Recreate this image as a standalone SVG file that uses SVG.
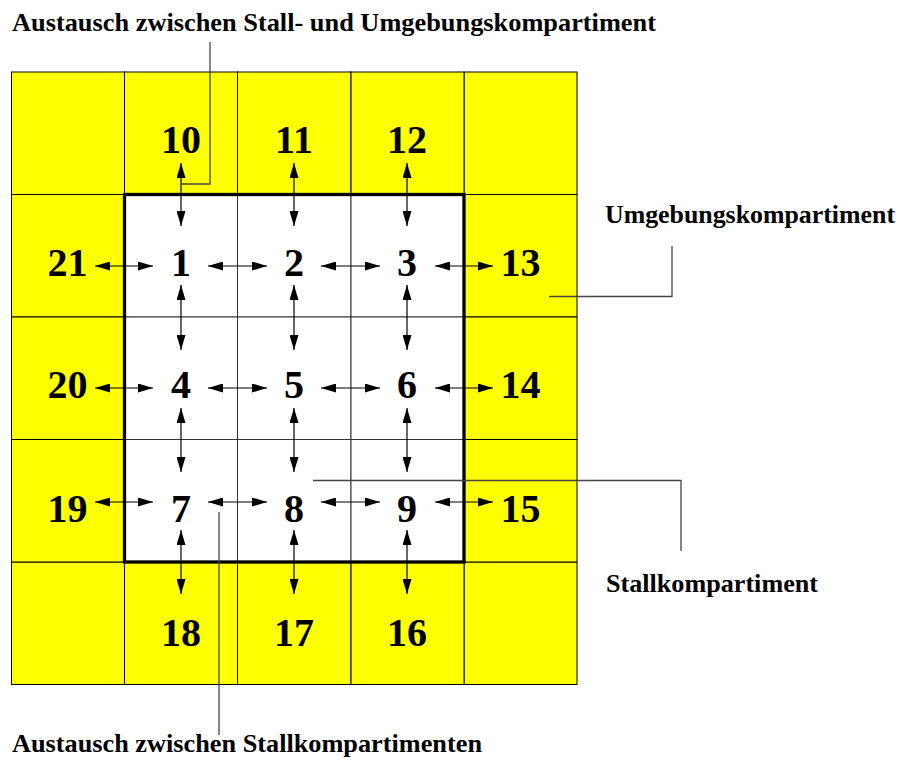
<svg xmlns="http://www.w3.org/2000/svg" width="904" height="763" viewBox="0 0 904 763">
  <style>
    .env { fill: #ffff00; stroke: #000; stroke-width: 1; }
    .stall { fill: #ffffff; stroke: #333; stroke-width: 1; }
    .num { font-family: "Liberation Serif", "Times New Roman", serif; font-weight: bold; font-size: 40px; fill: #000; text-anchor: middle; }
    .lbl { font-family: "Liberation Serif", "Times New Roman", serif; font-weight: bold; font-size: 26px; fill: #000; }
    .flow { stroke: #000; stroke-width: 1.2; fill: none; marker-start: url(#head); marker-end: url(#head); }
    .lead { stroke: #444; stroke-width: 1.3; fill: none; }
  </style>
  <defs>
    <marker id="head" markerUnits="userSpaceOnUse" markerWidth="15" markerHeight="9" refX="15" refY="4.5" orient="auto-start-reverse">
      <path d="M0,0 L15,4.5 L0,9 Z" fill="#000"/>
    </marker>
  </defs>

  <!-- surrounding compartments (yellow ring) -->
  <g id="corner-tl"><rect class="env" x="11.5" y="72" width="113" height="122.5"/></g>
  <g id="corner-tr"><rect class="env" x="464" y="72" width="113" height="122.5"/></g>
  <g id="corner-bl"><rect class="env" x="11.5" y="562" width="113" height="122.5"/></g>
  <g id="corner-br"><rect class="env" x="464" y="562" width="113" height="122.5"/></g>

  <g id="node-10"><rect class="env" x="124.5" y="72" width="113" height="122.5"/><text class="num" x="181" y="153">10</text></g>
  <g id="node-11"><rect class="env" x="237.5" y="72" width="113.5" height="122.5"/><text class="num" x="294" y="153">11</text></g>
  <g id="node-12"><rect class="env" x="351" y="72" width="113" height="122.5"/><text class="num" x="407" y="153">12</text></g>

  <g id="node-21"><rect class="env" x="11.5" y="194.5" width="113" height="122.5"/><text class="num" x="67.5" y="276">21</text></g>
  <g id="node-20"><rect class="env" x="11.5" y="317" width="113" height="122.5"/><text class="num" x="67.5" y="398">20</text></g>
  <g id="node-19"><rect class="env" x="11.5" y="439.5" width="113" height="122.5"/><text class="num" x="67.5" y="522">19</text></g>

  <g id="node-13"><rect class="env" x="464" y="194.5" width="113" height="122.5"/><text class="num" x="520.5" y="276">13</text></g>
  <g id="node-14"><rect class="env" x="464" y="317" width="113" height="122.5"/><text class="num" x="520.5" y="398">14</text></g>
  <g id="node-15"><rect class="env" x="464" y="439.5" width="113" height="122.5"/><text class="num" x="520.5" y="522">15</text></g>

  <g id="node-18"><rect class="env" x="124.5" y="562" width="113" height="122.5"/><text class="num" x="181" y="646">18</text></g>
  <g id="node-17"><rect class="env" x="237.5" y="562" width="113.5" height="122.5"/><text class="num" x="294" y="646">17</text></g>
  <g id="node-16"><rect class="env" x="351" y="562" width="113" height="122.5"/><text class="num" x="407" y="646">16</text></g>

  <!-- stall compartments (white 3x3 block) -->
  <g id="node-1"><rect class="stall" x="124.5" y="194.5" width="113" height="122.5"/><text class="num" x="181" y="276">1</text></g>
  <g id="node-2"><rect class="stall" x="237.5" y="194.5" width="113.5" height="122.5"/><text class="num" x="294" y="276">2</text></g>
  <g id="node-3"><rect class="stall" x="351" y="194.5" width="113" height="122.5"/><text class="num" x="407" y="276">3</text></g>
  <g id="node-4"><rect class="stall" x="124.5" y="317" width="113" height="122.5"/><text class="num" x="181" y="398">4</text></g>
  <g id="node-5"><rect class="stall" x="237.5" y="317" width="113.5" height="122.5"/><text class="num" x="294" y="398">5</text></g>
  <g id="node-6"><rect class="stall" x="351" y="317" width="113" height="122.5"/><text class="num" x="407" y="398">6</text></g>
  <g id="node-7"><rect class="stall" x="124.5" y="439.5" width="113" height="122.5"/><text class="num" x="181" y="522">7</text></g>
  <g id="node-8"><rect class="stall" x="237.5" y="439.5" width="113.5" height="122.5"/><text class="num" x="294" y="522">8</text></g>
  <g id="node-9"><rect class="stall" x="351" y="439.5" width="113" height="122.5"/><text class="num" x="407" y="522">9</text></g>

  <!-- bold outline of the stall block -->
  <rect id="stall-outline" x="124.5" y="194.5" width="339.5" height="367.5" fill="none" stroke="#000" stroke-width="3.3"/>

  <!-- exchange arrows -->
  <g id="connectors">
    <!-- vertical -->
    <line class="flow" x1="181" y1="163" x2="181" y2="226"/>
    <line class="flow" x1="294" y1="163" x2="294" y2="226"/>
    <line class="flow" x1="407" y1="163" x2="407" y2="226"/>
    <line class="flow" x1="181" y1="285" x2="181" y2="350"/>
    <line class="flow" x1="294" y1="285" x2="294" y2="350"/>
    <line class="flow" x1="407" y1="285" x2="407" y2="350"/>
    <line class="flow" x1="181" y1="408" x2="181" y2="472"/>
    <line class="flow" x1="294" y1="408" x2="294" y2="472"/>
    <line class="flow" x1="407" y1="408" x2="407" y2="472"/>
    <line class="flow" x1="181" y1="530" x2="181" y2="594"/>
    <line class="flow" x1="294" y1="530" x2="294" y2="594"/>
    <line class="flow" x1="407" y1="530" x2="407" y2="594"/>
    <!-- horizontal -->
    <line class="flow" x1="95" y1="266" x2="153" y2="266"/>
    <line class="flow" x1="208" y1="266" x2="267" y2="266"/>
    <line class="flow" x1="321" y1="266" x2="380" y2="266"/>
    <line class="flow" x1="435" y1="266" x2="493" y2="266"/>
    <line class="flow" x1="95" y1="388" x2="153" y2="388"/>
    <line class="flow" x1="208" y1="388" x2="267" y2="388"/>
    <line class="flow" x1="321" y1="388" x2="380" y2="388"/>
    <line class="flow" x1="435" y1="388" x2="493" y2="388"/>
    <line class="flow" x1="95" y1="502" x2="153" y2="502"/>
    <line class="flow" x1="208" y1="502" x2="267" y2="502"/>
    <line class="flow" x1="321" y1="502" x2="380" y2="502"/>
    <line class="flow" x1="435" y1="502" x2="493" y2="502"/>

    <!-- label leaders -->
    <polyline class="lead" stroke="#222" points="210,42 210,184 181,184"/>
    <polyline class="lead" points="549,296.5 672,296.5 672,246"/>
    <polyline class="lead" points="313,480.5 681,480.5 681,551"/>
    <polyline class="lead" points="219,512 219,735"/>
  </g>

  <!-- labels -->
  <g id="labels">
    <text class="lbl" x="12" y="30.5" textLength="644" lengthAdjust="spacingAndGlyphs">Austausch zwischen Stall- und Umgebungskompartiment</text>
    <text class="lbl" x="605" y="223" font-size="25" textLength="290" lengthAdjust="spacingAndGlyphs">Umgebungskompartiment</text>
    <text class="lbl" x="606" y="592" textLength="212" lengthAdjust="spacingAndGlyphs">Stallkompartiment</text>
    <text class="lbl" x="12" y="752" textLength="470" lengthAdjust="spacingAndGlyphs">Austausch zwischen Stallkompartimenten</text>
  </g>
</svg>
